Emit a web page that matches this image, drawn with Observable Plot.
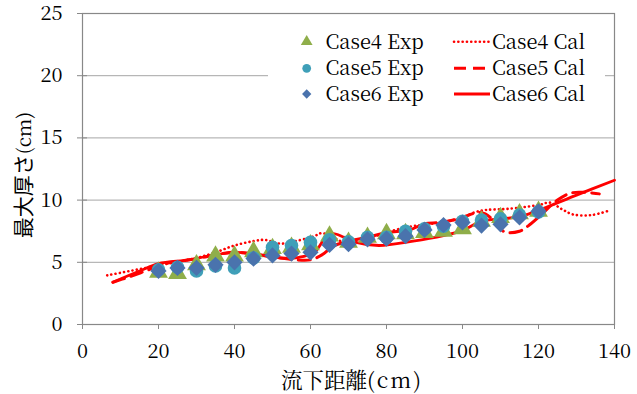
<!DOCTYPE html>
<html><head><meta charset="utf-8">
<script src="https://cdn.jsdelivr.net/npm/d3@7"></script>
<script src="https://cdn.jsdelivr.net/npm/@observablehq/plot@0.6"></script>
<style>body{margin:0;background:#fff}</style>
</head><body><div id="chart"></div>
<script>
const distance = [20,25,30,35,40,45,50,55,60,65,70,75,80,85,90,95,100,105,110,115,120];
const case4Exp = [4.2,4.1,4.8,5.5,5.5,5.85,6.1,6.2,6.4,7.1,6.6,7.0,7.3,7.3,7.4,7.5,7.7,8.3,8.6,8.9,9.1];
const case5Exp = [4.4,4.6,4.3,4.7,4.55,5.35,6.2,6.35,6.6,6.8,6.65,7.0,7.0,7.5,7.7,7.9,8.3,8.4,8.5,8.8,9.05];
const case6Exp = [4.3,4.55,4.55,4.8,5.0,5.3,5.55,5.7,5.8,6.4,6.45,6.85,6.9,7.1,7.6,8.0,8.2,7.95,8.05,8.6,9.1];

const case4CalX = [6.5,20,30,35,40,45,48,52,56,61,63,66,69,73,77,80,85,94,100,103,106,112,120,123,126,129,134,139];
const case4CalY = [3.95,4.75,5.35,5.8,6.35,6.7,6.8,6.5,6.7,7.1,7.35,7.0,6.6,6.9,7.1,7.4,7.8,8.2,8.6,9.0,9.2,9.3,9.6,9.8,9.3,8.85,8.8,9.2];
const case5CalX = [8,12,17,22,26,31,35,40,45,52,56,60,63,66,70,75,80,86,90,94,99,104,106,109,111,115,118,121,125,129,136];
const case5CalY = [3.4,3.8,4.35,4.9,5.1,5.35,5.6,5.8,5.65,5.35,5.2,5.2,5.6,6.3,6.7,7.0,7.4,7.6,8.1,8.2,8.5,9.0,8.9,8.1,7.45,7.5,8.1,8.9,10.0,10.6,10.5];
const case6CalX = [8,15,20,28,34,40,45,52,57,61,65,69,72,78,87,95,100,105,111,116,121,130,140];
const case6CalY = [3.4,4.3,4.9,5.2,5.55,5.8,5.7,5.35,5.4,5.8,7.3,7.0,6.6,6.35,6.7,7.15,7.55,8.3,8.5,8.75,9.3,10.4,11.6];

const xTicks = [0,20,40,60,80,100,120,140];
const yTicks = [0,5,10,15,20,25];
const gridTicks = [5,10,15,20];
const legendLabels = ["Case4 Exp","Case5 Exp","Case6 Exp","Case4 Cal","Case5 Cal","Case6 Cal"];
const xTitle = ["流下距離", "(cm)"];
const yTitle = ["最大厚さ", "(cm)"];

const colors = {c4:"#8fae4a", c5:"#3f9fb8", c6:"#4a73ad", cal:"#ff0000"};
const mincho = "Noto Serif CJK JP";
const gothic = "Noto Sans CJK JP";

const pts = (xs, ys) => xs.map((x,i)=>({x, y: ys[i]}));
const e4 = pts(distance, case4Exp), e5 = pts(distance, case5Exp), e6 = pts(distance, case6Exp);
const c4 = pts(case4CalX, case4CalY), c5 = pts(case5CalX, case5CalY), c6 = pts(case6CalX, case6CalY);

const svg = Plot.plot({
  width: 637, height: 394,
  marginLeft: 82, marginRight: 23, marginTop: 13, marginBottom: 70,
  style: {background: "#fff", color: "#000"},
  x: {domain: [0,140]},
  y: {domain: [0,25]},
  marks: [
    Plot.gridY(gridTicks, {stroke: "#a6a6a6", strokeOpacity: 1, strokeWidth: 1}),
    Plot.frame({stroke: "#888", strokeWidth: 1.2}),
    Plot.axisY(yTicks, {tickSize: 5, tickPadding: 15, stroke: "#888", label: null, fontSize: 20, fill: "#000"}),
    Plot.axisY(yTicks, {tickSize: -5, text: null, stroke: "#888", label: null}),
    Plot.axisX(xTicks, {tickSize: 5, tickPadding: 14, stroke: "#888", label: null, fontSize: 20, fill: "#000"}),
    Plot.line(c4, {x:"x", y:"y", stroke: colors.cal, strokeWidth: 2.6, strokeDasharray: "0.1,4.2", strokeLinecap: "round", curve: "catmull-rom"}),
    Plot.line(c5, {x:"x", y:"y", stroke: colors.cal, strokeWidth: 3, strokeDasharray: "12,7", curve: "catmull-rom"}),
    Plot.line(c6, {x:"x", y:"y", stroke: colors.cal, strokeWidth: 2.8, curve: "catmull-rom"}),
    Plot.dot(e4, {x:"x", y:"y", symbol: "triangle", r: 7, fill: colors.c4, stroke: "none"}),
    Plot.dot(e5, {x:"x", y:"y", symbol: "circle", r: 6.8, fill: colors.c5, stroke: "none"}),
    Plot.dot(e6, {x:"x", y:"y", symbol: "diamond2", r: 7.3, fill: colors.c6, stroke: "none"})
  ]
});

const root = d3.select(svg);
root.selectAll("g[aria-label$='tick label']").attr("font-family", mincho);

const xt = root.append("text").attr("x", 352).attr("y", 380).attr("text-anchor","middle").attr("dy","0.36em")
  .attr("font-family", mincho).attr("font-size", 21.5).attr("fill","#000");
xt.append("tspan").text(xTitle[0]);
xt.append("tspan").attr("letter-spacing", 2).text(xTitle[1]);
const yt = root.append("text").attr("transform","translate(23,175) rotate(-90)").attr("text-anchor","middle").attr("dy","0.36em")
  .attr("font-family", gothic).attr("font-size", 21).attr("fill","#000");
yt.append("tspan").text(yTitle[0]);
yt.append("tspan").attr("font-family", mincho).attr("font-size", 19).text(yTitle[1]);

const lg = root.append("g");
lg.append("rect").attr("x",268).attr("y",24).attr("width",337).attr("height",88).attr("fill","#fff");
const rowY = [41.7, 68.3, 94];
const syms = [d3.symbolTriangle, d3.symbolCircle, d3.symbolDiamond2];
const symCols = [colors.c4, colors.c5, colors.c6];
const dashes = ["0.1,4.2", "12,7", null];
for (let i = 0; i < 3; i++) {
  lg.append("path").attr("d", d3.symbol(syms[i], i===2?55:60)()).attr("transform",`translate(306.7,${rowY[i]})`).attr("fill", symCols[i]);
  lg.append("text").attr("x",325.5).attr("y",rowY[i]).attr("dy","0.35em").attr("text-anchor","start")
    .attr("font-family", mincho).attr("font-size", 20).attr("fill","#000").text(legendLabels[i]);
  const ln = lg.append("line").attr("x1",454).attr("x2",490).attr("y1",rowY[i]).attr("y2",rowY[i])
    .attr("stroke", colors.cal).attr("stroke-width", i===0?2.6:3);
  if (dashes[i]) ln.attr("stroke-dasharray", dashes[i]);
  if (i===0) ln.attr("stroke-linecap","round");
  lg.append("text").attr("x",492).attr("y",rowY[i]).attr("dy","0.35em").attr("text-anchor","start")
    .attr("font-family", mincho).attr("font-size", 20).attr("fill","#000").text(legendLabels[i+3]);
}
document.getElementById("chart").appendChild(svg);
</script>
</body></html>
